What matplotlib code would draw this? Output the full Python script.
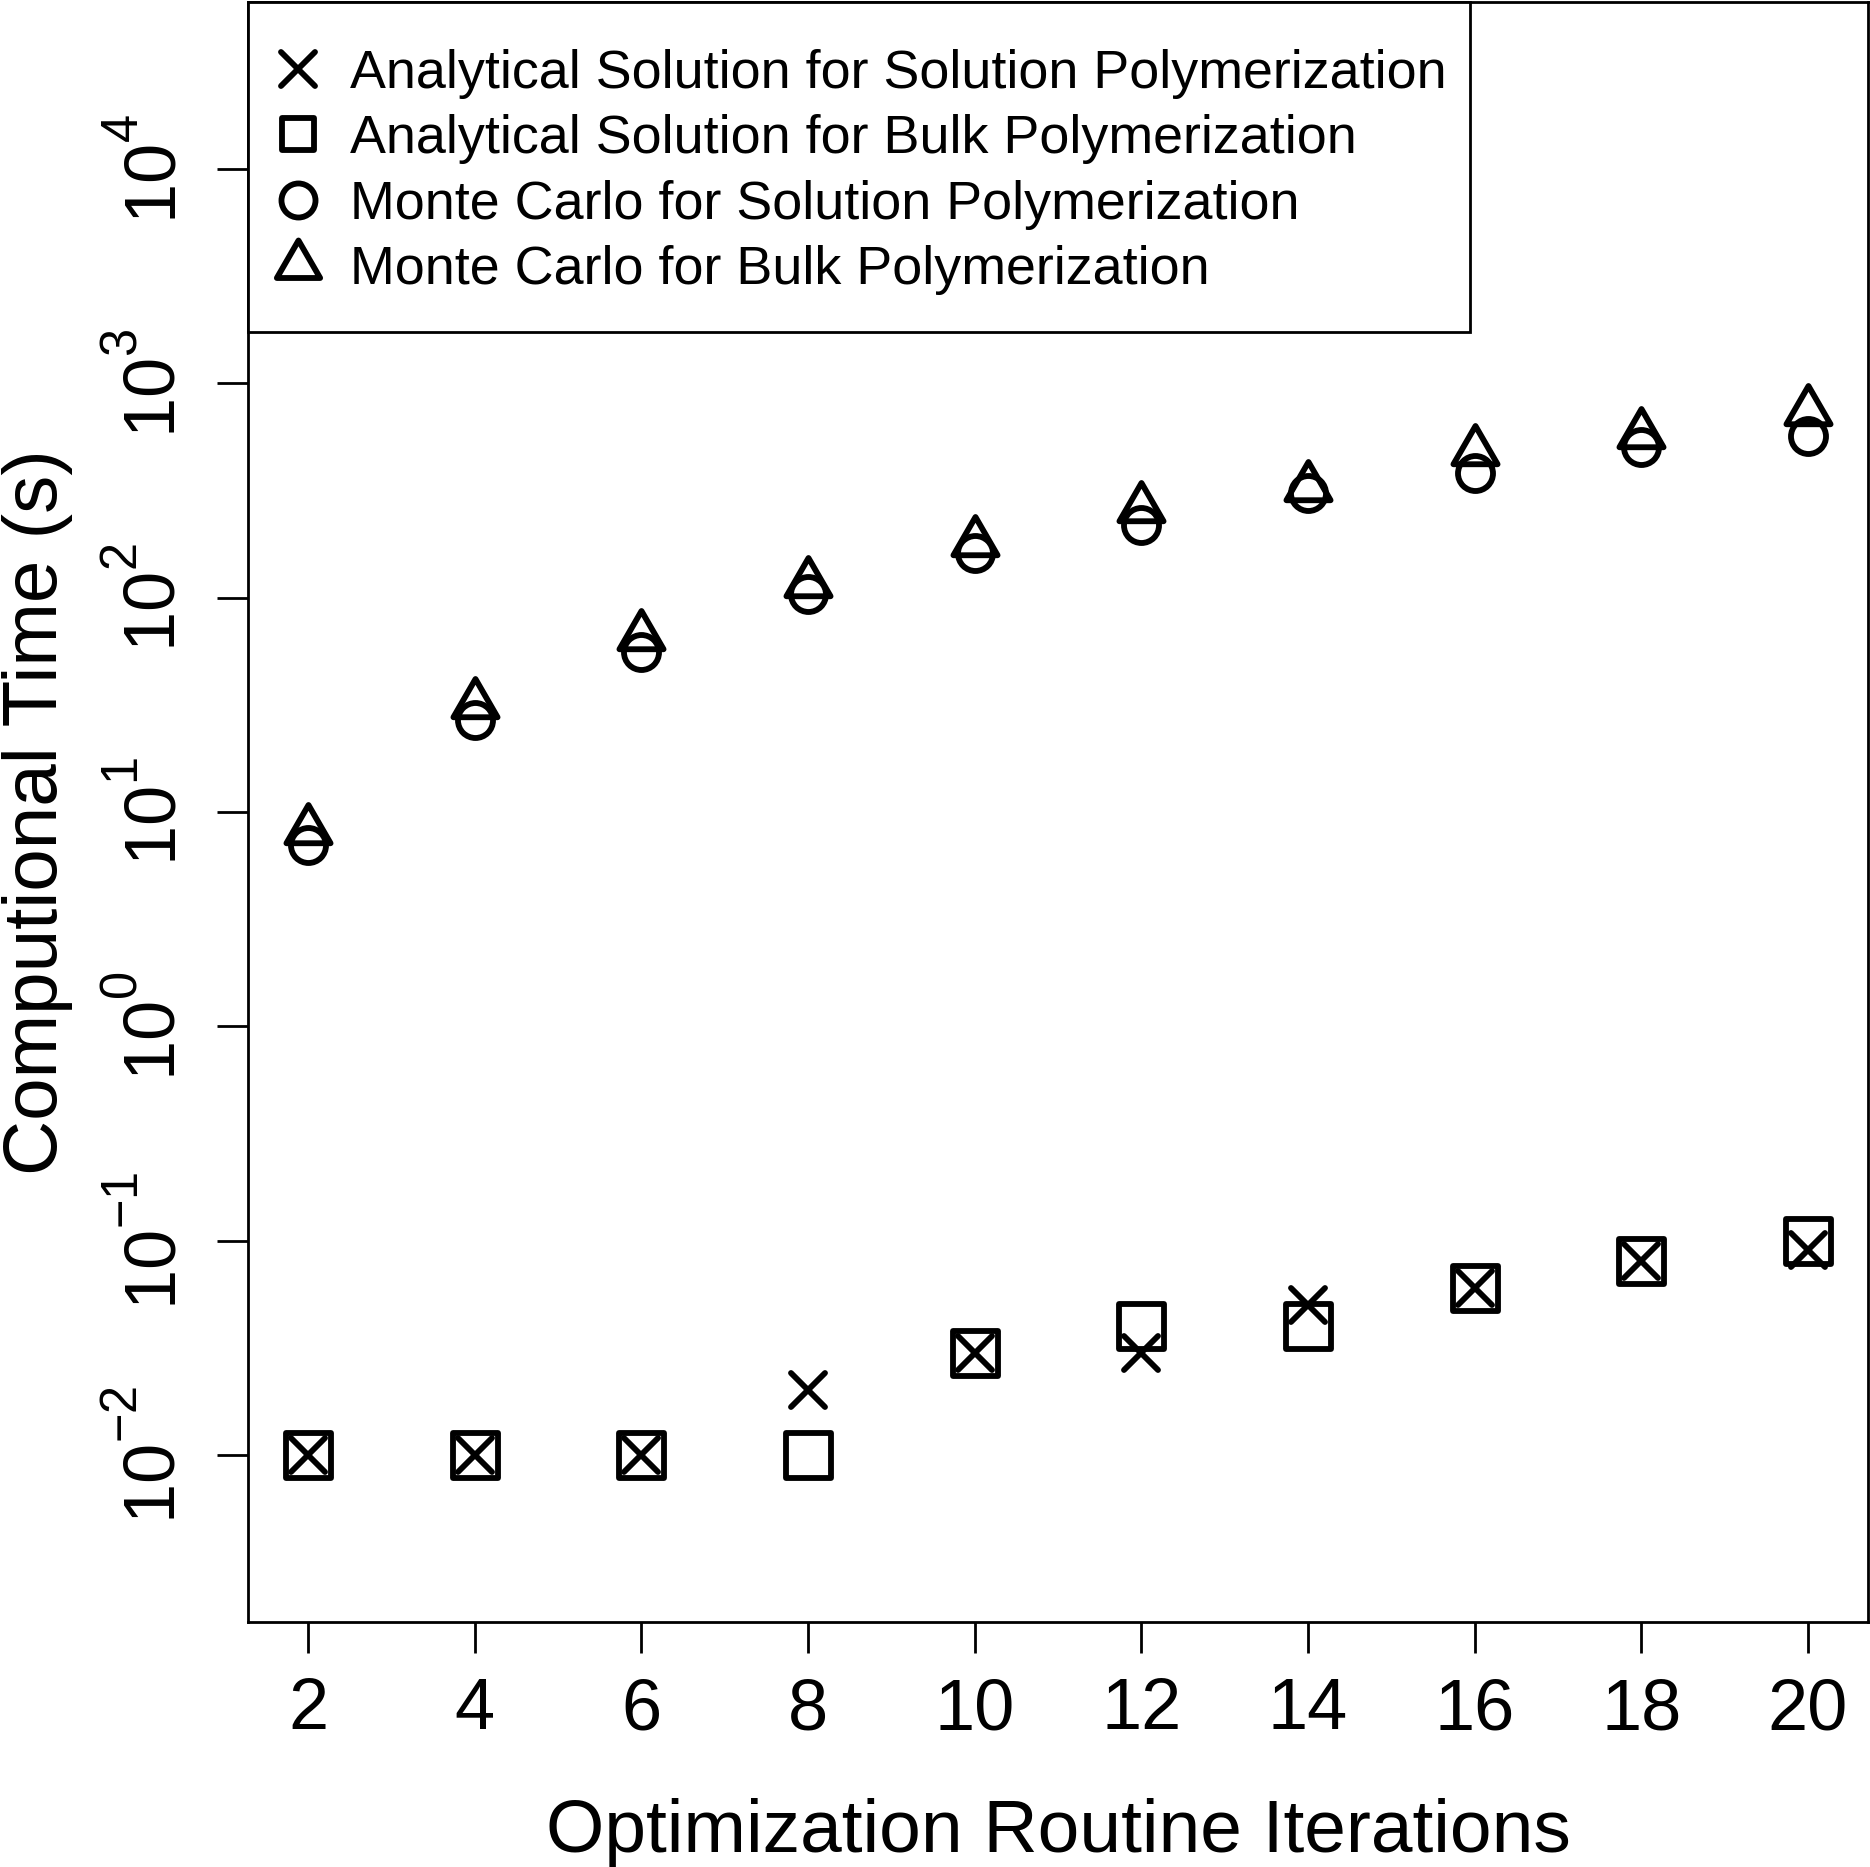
import matplotlib
matplotlib.use("Agg")
import matplotlib.pyplot as plt
from matplotlib.path import Path
from matplotlib.markers import MarkerStyle
from matplotlib.lines import Line2D
from matplotlib.patches import Rectangle
from matplotlib.ticker import FixedLocator, NullLocator
try:
    import matplotlib._mathtext as _mt
    _mt.FontConstantsBase.sup1 = 1.0
except Exception:
    pass

plt.rcParams['font.family'] = ['Liberation Sans', 'DejaVu Sans']
plt.rcParams['mathtext.fontset'] = 'custom'
plt.rcParams['mathtext.rm'] = 'Liberation Sans'
plt.rcParams['mathtext.it'] = 'Liberation Sans:italic'
plt.rcParams['mathtext.bf'] = 'Liberation Sans:bold'

# ---- data ----
iterations = [2, 4, 6, 8, 10, 12, 14, 16, 18, 20]
analytical_solution = [0.01, 0.01, 0.01, 0.02, 0.03, 0.03, 0.05, 0.06, 0.08, 0.09]
analytical_bulk = [0.01, 0.01, 0.01, 0.01, 0.03, 0.04, 0.04, 0.06, 0.08, 0.10]
mc_solution = [7.0, 27, 56, 104, 162, 219, 307, 382, 503, 571]
mc_bulk = [8.2, 32, 66, 117, 181, 261, 330, 483, 578, 746]

series_labels = [
    "Analytical Solution for Solution Polymerization",
    "Analytical Solution for Bulk Polymerization",
    "Monte Carlo for Solution Polymerization",
    "Monte Carlo for Bulk Polymerization",
]
x_ticks = [2, 4, 6, 8, 10, 12, 14, 16, 18, 20]
y_exponents = [-2, -1, 0, 1, 2, 3, 4]
x_label = "Optimization Routine Iterations"
y_label = "Computional Time (s)"

# ---- figure ----
W, H = 1870, 1867
fig = plt.figure(figsize=(W / 100, H / 100), dpi=100)
ax_l, ax_r, ax_t, ax_b = 248, 1868, 2, 1622
ax = fig.add_axes([ax_l / W, 1 - ax_b / H, (ax_r - ax_l) / W, (ax_b - ax_t) / H])

ax.set_yscale('log')
ax.set_xlim(1.28, 20.72)
ax.set_ylim(10 ** -2.78, 10 ** 4.78)

# R-like triangle (centroid at point)
tri_path = Path([(0, 1), (-0.8660254, -0.5), (0.8660254, -0.5), (0, 1)],
                [Path.MOVETO, Path.LINETO, Path.LINETO, Path.CLOSEPOLY])
m_tri = MarkerStyle(tri_path, joinstyle='round')
m_sq = MarkerStyle('s', joinstyle='round')
m_x = MarkerStyle('x', capstyle='round')
m_o = MarkerStyle('o')

mew = 4.2
common = dict(linestyle='none', color='black', markerfacecolor='none',
              markeredgecolor='black', markeredgewidth=mew, clip_on=False)

ax.plot(iterations, analytical_solution, marker=m_x, markersize=24.5, **common)
ax.plot(iterations, analytical_bulk, marker=m_sq, markersize=32.4, **common)
ax.plot(iterations, mc_solution, marker=m_o, markersize=25.2, **common)
ax.plot(iterations, mc_bulk, marker=m_tri, markersize=36.7, **common)

# ticks
ax.xaxis.set_major_locator(FixedLocator(x_ticks))
ax.set_xticks(x_ticks, [str(v) for v in x_ticks])
ax.xaxis.set_minor_locator(NullLocator())
ax.set_yticks([10.0 ** e for e in y_exponents],
              [r'$\mathregular{10^{%d}}$' % e for e in y_exponents],
              rotation=90, va='center')
ax.yaxis.set_minor_locator(NullLocator())

ax.tick_params(axis='both', which='major', direction='out', length=22,
               width=2, color='black', labelsize=52)
ax.tick_params(axis='x', pad=17.6)
ax.tick_params(axis='y', pad=19.4)
ax.tick_params(top=False, right=False)

for sp in ax.spines.values():
    sp.set_linewidth(2)
    sp.set_color('black')

# axis labels
ax.set_xlabel(x_label, fontsize=54)
ax.xaxis.label.set_va('baseline')
ax.xaxis.set_label_coords(0.5, -(1851.7 - ax_b) / (ax_b - ax_t))
ax.set_ylabel(y_label, fontsize=55)
ax.yaxis.label.set_va('baseline')
ax.yaxis.set_label_coords((57.5 - ax_l) / (ax_r - ax_l), 0.5)

# legend box
axw = ax_r - ax_l
axh = ax_b - ax_t
box_right = 1470
box_bottom = 332
ax.add_patch(Rectangle((0, 1 - (box_bottom - ax_t) / axh), (box_right - ax_l) / axw,
                       (box_bottom - ax_t) / axh, transform=ax.transAxes,
                       facecolor='white', edgecolor='black', linewidth=2,
                       zorder=5, clip_on=False))

leg_kw = dict(linestyle='none', markerfacecolor='none', markeredgecolor='black',
              markeredgewidth=mew)
handles = [
    Line2D([], [], marker=m_x, markersize=24.0, **leg_kw),
    Line2D([], [], marker=m_sq, markersize=23.0, **leg_kw),
    Line2D([], [], marker=m_o, markersize=24.5, **leg_kw),
    Line2D([], [], marker=m_tri, markersize=36.0, **leg_kw),
]
leg_fs = 38.8
leg_px = leg_fs * 100 / 72
handle_len = 1.0
leg = ax.legend(handles, series_labels, loc='upper left',
                bbox_to_anchor=((298 - handle_len * leg_px / 2 - ax_l) / axw,
                                1 - (49 - ax_t) / axh),
                frameon=False, fontsize=leg_fs, borderpad=0, borderaxespad=0,
                handlelength=handle_len,
                handletextpad=(350 - 298 - handle_len * leg_px / 2) / leg_px,
                labelspacing=0.284, numpoints=1)
leg.set_zorder(6)

fig.savefig("out.png", dpi=100, facecolor='white')
